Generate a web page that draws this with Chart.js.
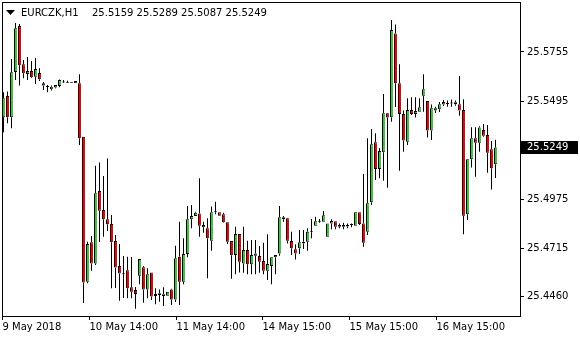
<!DOCTYPE html>
<html>
<head>
<meta charset="utf-8">
<script src="https://cdn.jsdelivr.net/npm/chart.js@4"></script>
<style>
  html, body { margin: 0; padding: 0; background: #fff; }
  #wrap { width: 580px; height: 340px; }
</style>
</head>
<body>
<div id="wrap"><canvas id="candleChart"></canvas></div>
<script>
// EURCZK H1 bars (price values)
const symbol = 'EURCZK,H1';

const opens = [
  25.5409, 25.5522, 25.5409, 25.5649, 25.5893, 25.5690, 25.5638, 25.5654, 25.5623, 25.5644,
  25.5589, 25.5569, 25.5557, 25.5580, 25.5575, 25.5593, 25.5592, 25.5592, 25.5601, 25.5589,
  25.5306, 25.4537, 25.4746, 25.4634, 25.5018, 25.4917, 25.4868, 25.4843, 25.4753, 25.4620,
  25.4577, 25.4597, 25.4507, 25.4493, 25.4568, 25.4613, 25.4496, 25.4586, 25.4461, 25.4466,
  25.4470, 25.4462, 25.4496, 25.4443, 25.4669, 25.4537, 25.4684, 25.4868, 25.4885, 25.4899,
  25.4837, 25.4820, 25.4754, 25.4905, 25.4905, 25.4894, 25.4852, 25.4753, 25.4678, 25.4790,
  25.4634, 25.4705, 25.4629, 25.4674, 25.4673, 25.4646, 25.4595, 25.4620, 25.4666, 25.4687,
  25.4878, 25.4873, 25.4753, 25.4709, 25.4714, 25.4740, 25.4749, 25.4799, 25.4834, 25.4855,
  25.4855, 25.4775, 25.4846, 25.4857, 25.4828, 25.4837, 25.4830, 25.4837, 25.4834, 25.4905,
  25.4846, 25.4802, 25.4958, 25.5276, 25.5135, 25.5223, 25.5430, 25.5409, 25.5853, 25.5589,
  25.5426, 25.5279, 25.5447, 25.5426, 25.5438, 25.5523, 25.5495, 25.5339, 25.5445, 25.5451,
  25.5490, 25.5479, 25.5482, 25.5488, 25.5478, 25.5447, 25.4894, 25.5186, 25.5297, 25.5274,
  25.5341, 25.5315, 25.5239, 25.5159
];
const highs = [
  25.5541, 25.5545, 25.5718, 25.5909, 25.5904, 25.5713, 25.5729, 25.5707, 25.5723, 25.5669,
  25.5596, 25.5580, 25.5577, 25.5580, 25.5609, 25.5607, 25.5603, 25.5593, 25.5601, 25.5637,
  25.5306, 25.4749, 25.4779, 25.5152, 25.5169, 25.5097, 25.5190, 25.4890, 25.4784, 25.4737,
  25.4673, 25.4669, 25.4668, 25.4509, 25.4657, 25.4620, 25.4608, 25.4586, 25.4502, 25.4495,
  25.4507, 25.4484, 25.4499, 25.4728, 25.4855, 25.4767, 25.4938, 25.4944, 25.4908, 25.5085,
  25.4855, 25.4873, 25.4935, 25.4961, 25.4905, 25.4903, 25.4852, 25.4753, 25.4828, 25.4790,
  25.4828, 25.4754, 25.4758, 25.4758, 25.4726, 25.4744, 25.4788, 25.4666, 25.4678, 25.4938,
  25.4885, 25.4875, 25.4802, 25.4735, 25.4811, 25.4811, 25.4820, 25.4869, 25.4881, 25.4869,
  25.4912, 25.4846, 25.4868, 25.4857, 25.4846, 25.4850, 25.4846, 25.4846, 25.4905, 25.4905,
  25.5108, 25.5297, 25.5347, 25.5324, 25.5246, 25.5532, 25.5432, 25.5925, 25.5901, 25.5690,
  25.5445, 25.5510, 25.5515, 25.5515, 25.5510, 25.5637, 25.5495, 25.5477, 25.5465, 25.5490,
  25.5500, 25.5498, 25.5503, 25.5498, 25.5628, 25.5504, 25.5188, 25.5356, 25.5356, 25.5361,
  25.5373, 25.5368, 25.5283, 25.5289
];
const lows = [
  25.5329, 25.5377, 25.5350, 25.5607, 25.5577, 25.5616, 25.5607, 25.5617, 25.5585, 25.5601,
  25.5554, 25.5541, 25.5551, 25.5563, 25.5568, 25.5591, 25.5592, 25.5592, 25.5589, 25.5262,
  25.4424, 25.4528, 25.4595, 25.4625, 25.4747, 25.4775, 25.4806, 25.4502, 25.4503, 25.4436,
  25.4450, 25.4449, 25.4449, 25.4394, 25.4524, 25.4425, 25.4449, 25.4440, 25.4417, 25.4431,
  25.4408, 25.4462, 25.4413, 25.4429, 25.4413, 25.4524, 25.4666, 25.4820, 25.4885, 25.4775,
  25.4797, 25.4555, 25.4701, 25.4894, 25.4887, 25.4850, 25.4737, 25.4553, 25.4577, 25.4586,
  25.4584, 25.4577, 25.4577, 25.4577, 25.4584, 25.4577, 25.4546, 25.4523, 25.4577, 25.4674,
  25.4855, 25.4740, 25.4678, 25.4655, 25.4684, 25.4710, 25.4701, 25.4767, 25.4834, 25.4850,
  25.4855, 25.4775, 25.4815, 25.4815, 25.4820, 25.4815, 25.4820, 25.4825, 25.4834, 25.4837,
  25.4722, 25.4784, 25.4944, 25.5076, 25.5085, 25.5072, 25.5035, 25.5385, 25.5463, 25.5125,
  25.5226, 25.5262, 25.5421, 25.5407, 25.5438, 25.5438, 25.5302, 25.5288, 25.5432, 25.5437,
  25.5469, 25.5465, 25.5465, 25.5470, 25.5417, 25.4788, 25.4864, 25.5142, 25.5094, 25.5226,
  25.5306, 25.5115, 25.5026, 25.5087
];
const closes = [
  25.5510, 25.5409, 25.5647, 25.5881, 25.5684, 25.5642, 25.5654, 25.5621, 25.5665, 25.5610,
  25.5577, 25.5569, 25.5571, 25.5566, 25.5607, 25.5593, 25.5592, 25.5592, 25.5589, 25.5297,
  25.4532, 25.4737, 25.4634, 25.5006, 25.4913, 25.4868, 25.4841, 25.4746, 25.4612, 25.4581,
  25.4577, 25.4502, 25.4484, 25.4471, 25.4657, 25.4496, 25.4577, 25.4458, 25.4471, 25.4475,
  25.4461, 25.4484, 25.4443, 25.4661, 25.4537, 25.4684, 25.4868, 25.4885, 25.4903, 25.4834,
  25.4825, 25.4767, 25.4905, 25.4905, 25.4887, 25.4852, 25.4749, 25.4677, 25.4790, 25.4643,
  25.4705, 25.4629, 25.4678, 25.4687, 25.4643, 25.4595, 25.4631, 25.4666, 25.4678, 25.4878,
  25.4868, 25.4754, 25.4714, 25.4687, 25.4746, 25.4749, 25.4802, 25.4799, 25.4857, 25.4855,
  25.4889, 25.4846, 25.4859, 25.4828, 25.4837, 25.4828, 25.4838, 25.4837, 25.4905, 25.4843,
  25.4744, 25.4953, 25.5266, 25.5135, 25.5230, 25.5430, 25.5407, 25.5872, 25.5589, 25.5426,
  25.5285, 25.5447, 25.5426, 25.5442, 25.5462, 25.5557, 25.5339, 25.5457, 25.5457, 25.5478,
  25.5477, 25.5479, 25.5482, 25.5478, 25.5445, 25.4887, 25.5186, 25.5297, 25.5274, 25.5354,
  25.5311, 25.5221, 25.5138, 25.5249
];

// bar index where each time label sits, and the label text
const xTickPos = [-0.25, 21.5, 43.25, 64.75, 86.5, 108.25];
const xTickLabels = ['9 May 2018', '10 May 14:00', '11 May 14:00', '14 May 15:00', '15 May 15:00', '16 May 15:00'];
const yTickVals = [25.5755, 25.5495, 25.4975, 25.4715, 25.4460];

const bullColor = '#3cc43c';
const bearColor = '#f00000';
const fontFamily = 'DejaVu Sans';

function candleColor(i) {
    const diff = closes[i] - opens[i];
    if (Math.abs(diff) < 0.00015) return '#000';
    return diff > 0 ? bullColor : bearColor;
}

// body plus the two wick pieces above and below it
const bodyData = opens.map((o, i) => ({ x: i, y: [o, closes[i]] }));
const upperWick = highs.map((h, i) => ({ x: i, y: [Math.max(opens[i], closes[i]), h] }));
const lowerWick = lows.map((l, i) => ({ x: i, y: [l, Math.min(opens[i], closes[i])] }));

// frame, header line and the black current price box
const mtOverlay = {
    id: 'mtOverlay',
    afterDraw(chart) {
        const ctx = chart.ctx;
        const a = chart.chartArea;
        const y = chart.scales.y;
        const last = closes.length - 1;

        ctx.save();
        ctx.strokeStyle = '#000';
        ctx.lineWidth = 1;
        ctx.strokeRect(a.left + 0.5, a.top + 0.5, a.right - a.left, a.bottom - a.top);

        ctx.fillStyle = '#000';
        ctx.beginPath();
        ctx.moveTo(6, 10);
        ctx.lineTo(15, 10);
        ctx.lineTo(10.5, 15);
        ctx.closePath();
        ctx.fill();

        ctx.font = '10px "' + fontFamily + '"';
        ctx.textBaseline = 'middle';
        ctx.textAlign = 'left';
        ctx.fillText(symbol, 21, 13);
        const ohlc = [opens[last], highs[last], lows[last], closes[last]].map(v => v.toFixed(4)).join(' ');
        ctx.fillText(ohlc, 92, 13);

        const py = Math.round(y.getPixelForValue(closes[last]));
        ctx.fillRect(a.right + 1, py - 6, 57, 13);
        ctx.fillStyle = '#fff';
        ctx.fillText(closes[last].toFixed(4), a.right + 7, py + 0.5);
        ctx.restore();
    }
};

const wickStyle = {
    grouped: false,
    barThickness: 1,
    categoryPercentage: 1,
    barPercentage: 1,
    borderWidth: 0,
    inflateAmount: 0,
    backgroundColor: '#000'
};

const ctx = document.getElementById('candleChart').getContext('2d');
new Chart(ctx, {
    type: 'bar',
    data: {
        datasets: [
            {
                label: 'body',
                data: bodyData,
                grouped: false,
                barThickness: 3,
                categoryPercentage: 1,
                barPercentage: 1,
                borderWidth: { top: 1, bottom: 1, left: 1, right: 0 },
                borderColor: '#000',
                borderSkipped: false,
                inflateAmount: 0,
                minBarLength: 1,
                backgroundColor: c => candleColor(c.dataIndex)
            },
            Object.assign({ label: 'upper wick', data: upperWick }, wickStyle),
            Object.assign({ label: 'lower wick', data: lowerWick }, wickStyle)
        ]
    },
    options: {
        responsive: true,
        maintainAspectRatio: false,
        animation: false,
        layout: { padding: { left: 2, top: 2, right: 0, bottom: 0 } },
        plugins: {
            legend: { display: false },
            tooltip: { enabled: false }
        },
        scales: {
            x: {
                type: 'linear',
                min: -0.375,
                max: 129.125,
                offset: false,
                border: { display: false },
                grid: {
                    offset: false,
                    drawOnChartArea: false,
                    drawTicks: true,
                    tickLength: 4,
                    tickColor: '#000'
                },
                ticks: {
                    align: 'start',
                    autoSkip: false,
                    maxRotation: 0,
                    padding: 1,
                    color: '#000',
                    font: { family: fontFamily, size: 10 },
                    callback: (v, i) => xTickLabels[i]
                },
                afterBuildTicks: s => { s.ticks = xTickPos.map(v => ({ value: v })); },
                afterFit: s => { s.height = 24; s.paddingLeft = 0; s.paddingRight = 0; }
            },
            y: {
                position: 'right',
                min: 25.4355,
                max: 25.6020,
                border: { display: false },
                grid: {
                    drawOnChartArea: false,
                    drawTicks: true,
                    tickLength: 4,
                    tickColor: '#000'
                },
                ticks: {
                    padding: 3,
                    color: '#000',
                    font: { family: fontFamily, size: 10 },
                    callback: v => v.toFixed(4)
                },
                afterBuildTicks: s => { s.ticks = yTickVals.map(v => ({ value: v })); },
                afterFit: s => { s.width = 60; s.paddingTop = 0; s.paddingBottom = 0; }
            }
        }
    },
    plugins: [mtOverlay]
});
</script>
</body>
</html>
